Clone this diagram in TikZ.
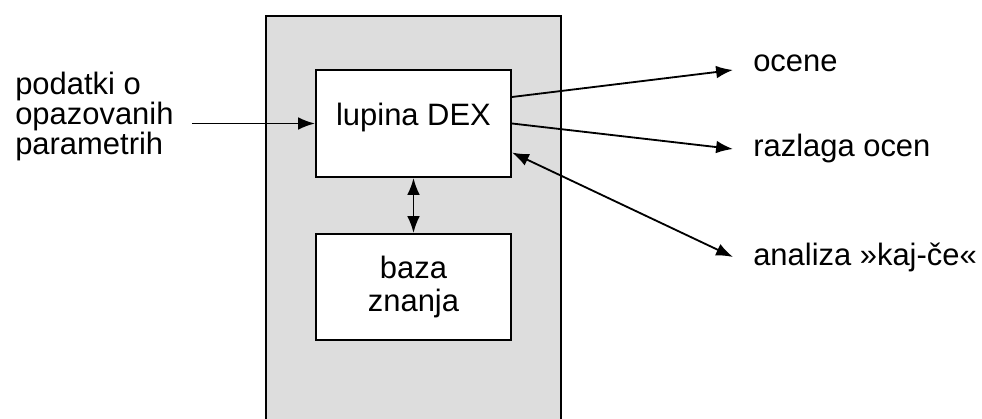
\documentclass[tikz,border=0pt]{standalone}
\usepackage{fontspec}
\setmainfont{Liberation Sans}
\usetikzlibrary{arrows.meta}
\definecolor{fond}{RGB}{221,221,221}

\begin{document}
\begin{tikzpicture}[x=0.025cm, y=-0.025cm]
        % Styles pour les boites, les textes et les fleches
        \tikzstyle{boite}=[draw, line width=1.4pt, fill=white, minimum width=4.875cm, inner sep=0pt, align=center, font=\fontsize{22pt}{23.4pt}\selectfont]
        \tikzstyle{texte}=[inner sep=0pt, font=\fontsize{22pt}{19.5pt}\selectfont]
        \tikzstyle{sortie}=[texte, inner xsep=0.5cm, text height=0.55cm, text depth=0.15cm, anchor=west]
        \tikzstyle{fleche}=[line width=1.3pt, -{Latex[length=12pt, width=9pt]}]
        \tikzstyle{flechedouble}=[line width=1.3pt, {Latex[length=12pt, width=9pt]}-{Latex[length=12pt, width=9pt]}]

        \useasboundingbox (0,0) rectangle (982,419);

        % Fond gris
        \fill[fond] (266,16) rectangle (561,419);
        \draw[line width=1.4pt] (266,419) -- (266,16) -- (561,16) -- (561,419);

        % Boites
        \node[boite, minimum height=2.675cm, text height=0.55cm, text depth=0.425cm] (dex) at (413.5,123.5) {lupina DEX};
        \node[boite, minimum height=2.65cm] (baza) at (413.5,287) {baza\\znanja};

        % Textes
        \node[texte, anchor=west, align=left] (podatki) at (15,116.5) {podatki o\\opazovanih\\parametrih};
        \node[sortie] (ocene) at (733,64) {ocene};
        \node[sortie] (razlaga) at (733,149) {razlaga ocen};
        \node[sortie] (analiza) at (733,257) {analiza »kaj-če«};

        % Fleches
        \draw[fleche] ([xshift=0.45cm]podatki.east |- dex.west) -- (dex.west);
        \draw[flechedouble] (dex) -- (baza);
        \draw[fleche] ([yshift=0.6625cm]dex.east) -- ([yshift=-0.15cm]ocene.west);
        \draw[fleche] (dex.east) -- (razlaga.west);
        \draw[flechedouble] ([yshift=-0.725cm]dex.east) -- (analiza.west);
    \end{tikzpicture}
\end{document}
